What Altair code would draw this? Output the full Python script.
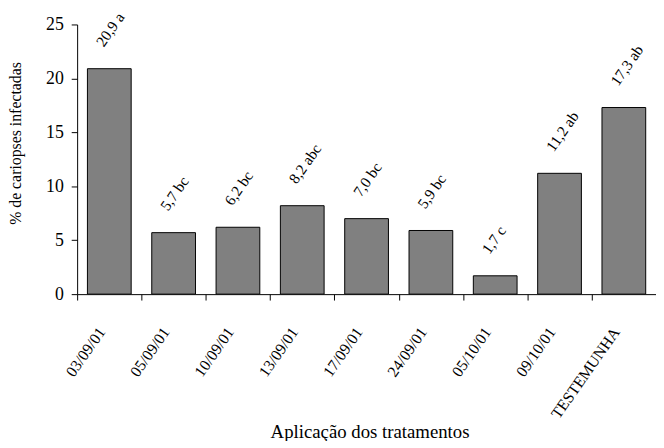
import altair as alt
import pandas as pd

categories = ["03/09/01", "05/09/01", "10/09/01", "13/09/01", "17/09/01",
              "24/09/01", "05/10/01", "09/10/01", "TESTEMUNHA"]
values = [20.9, 5.7, 6.2, 8.2, 7.0, 5.9, 1.7, 11.2, 17.3]
letters = ["a", "bc", "bc", "abc", "bc", "bc", "c", "ab", "ab"]
y_ticks = [0, 5, 10, 15, 20, 25]

df = pd.DataFrame({
    "cat": categories,
    "val": values,
    "label": [f"{v:.1f}".replace(".", ",") + " " + l for v, l in zip(values, letters)],
})

FONT = "Liberation Serif"

x_enc = alt.X(
    "cat:N", sort=categories,
    scale=alt.Scale(paddingInner=0, paddingOuter=0),
    axis=alt.Axis(
        title="Aplicação dos tratamentos",
        titleFont=FONT, titleFontSize=19, titleFontWeight="normal", titleColor="black",
        titleX=296, titleY=145, titleBaseline="alphabetic", titleAlign="center",
        labelFont=FONT, labelFontSize=16, labelColor="black",
        labelAngle=305, labelAlign="right", labelBaseline="middle",
        labelPadding=29, labelOffset=-8,
        tickBand="extent", tickSize=6, tickColor="black", domainColor="black",
        labelOverlap=False,
    ),
)
y_enc = alt.Y(
    "val:Q",
    scale=alt.Scale(domain=[0, 25], nice=False),
    axis=alt.Axis(
        title="%  de cariopses infectadas",
        titleFont=FONT, titleFontSize=16, titleFontWeight="normal", titleColor="black",
        titleX=-62, titleY=120, titleBaseline="middle", titleAlign="center",
        values=y_ticks, grid=False,
        labelFont=FONT, labelFontSize=18, labelColor="black", labelPadding=8,
        tickSize=6, tickColor="black", domainColor="black",
    ),
)

bars = alt.Chart(df).mark_bar(
    width=alt.RelativeBandSize(0.68), color="#808080", stroke="black", strokeWidth=1
).encode(x=x_enc, y=y_enc)

labels = alt.Chart(df).mark_text(
    angle=305, align="left", baseline="alphabetic", dx=14, dy=-16.8,
    font=FONT, fontSize=15.5, color="black",
).encode(x=alt.X("cat:N", sort=categories), y="val:Q", text="label:N")

chart = alt.layer(bars, labels).properties(
    width=586, height=273,
    padding={"left": 70, "top": 14, "right": 0, "bottom": 146},
    autosize=alt.AutoSizeParams(type="none"),
).configure_view(stroke=None)

chart.save("out.html", embed_options={"renderer": "svg", "actions": False})
